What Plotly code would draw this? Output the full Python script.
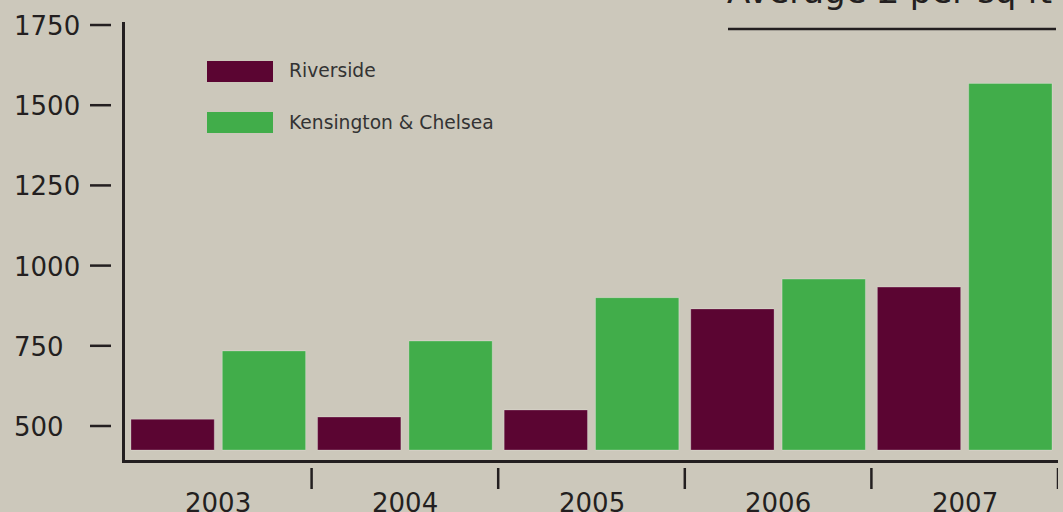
import plotly.graph_objects as go

years = ["2003", "2004", "2005", "2006", "2007"]
riverside = [521, 528, 550, 865, 933]
kensington = [734, 765, 900, 958, 1568]
BASE = 425
y_ticks = [500, 750, 1000, 1250, 1500, 1750]
series_names = ["Riverside", "Kensington & Chelsea"]
title_text = "Average £ per sq ft"

BG = "#ccc8bb"
INK = "#231f20"
C_R = "#5b0532"
C_K = "#41ad4a"
FONT = "DejaVu Sans"

W, H = 1063, 512
L, R, T, B = 125, 5, 22, 52
PW, PH = W - L - R, H - T - B


def px(xp):
    return (xp - L) / PW


def py(yp):
    return (H - B - yp) / PH


fig = go.Figure()
fig.add_bar(x=years, y=[v - BASE for v in riverside], base=BASE, name=series_names[0],
            marker=dict(color=C_R, line=dict(color="rgba(255,255,255,0.25)", width=1)))
fig.add_bar(x=years, y=[v - BASE for v in kensington], base=BASE, name=series_names[1],
            marker=dict(color=C_K, line=dict(color="rgba(255,255,255,0.25)", width=1)))

shapes = []
annotations = []

# y tick dashes and labels
for t in y_ticks:
    shapes.append(dict(type="line", xref="paper", yref="y", x0=px(90), x1=px(111), y0=t, y1=t,
                       line=dict(color=INK, width=2.5)))
    annotations.append(dict(xref="paper", yref="y", x=px(12), y=t, text=str(t), showarrow=False,
                            xanchor="left", yanchor="middle", yshift=-1,
                            font=dict(family=FONT, size=26, color=INK)))

# x group boundary ticks and year labels
for i, yr in enumerate(years):
    shapes.append(dict(type="line", xref="x", yref="paper", x0=i + 0.5, x1=i + 0.5,
                       y0=py(468), y1=py(489), line=dict(color=INK, width=2.5)))
    annotations.append(dict(xref="x", yref="paper", x=i, y=py(503), text=yr, showarrow=False,
                            xanchor="center", yanchor="middle",
                            font=dict(family=FONT, size=26, color=INK)))

# legend
for name, col, top in [(series_names[0], C_R, 61), (series_names[1], C_K, 112)]:
    shapes.append(dict(type="rect", xref="paper", yref="paper", x0=px(207), x1=px(273),
                       y0=py(top), y1=py(top + 21), fillcolor=col, line=dict(width=0)))
    annotations.append(dict(xref="paper", yref="paper", x=px(287), y=py(top + 10), text=name,
                            showarrow=False, xanchor="left", yanchor="middle",
                            font=dict(family=FONT, size=18.7, color="#333333")))

# title and underline
annotations.append(dict(xref="paper", yref="paper", x=px(725), y=py(12.5), text=title_text,
                        showarrow=False, xanchor="left", yanchor="bottom",
                        font=dict(family=FONT, size=34, color=INK)))
shapes.append(dict(type="line", xref="paper", yref="paper", x0=px(728), x1=px(1056),
                   y0=py(29), y1=py(29), line=dict(color=INK, width=2.5)))

fig.update_layout(
    width=W, height=H,
    margin=dict(l=L, r=R, t=T, b=B, pad=0),
    paper_bgcolor=BG, plot_bgcolor=BG,
    barmode="group", bargap=0.021, bargroupgap=0.088,
    showlegend=False,
    shapes=shapes, annotations=annotations,
    font=dict(family=FONT, color=INK),
    xaxis=dict(type="category", showgrid=False, zeroline=False, showticklabels=False,
               ticks="", showline=True, linecolor=INK, linewidth=2.5, range=[-0.5, 4.5]),
    yaxis=dict(range=[394, 1759.4], showgrid=False, zeroline=False, showticklabels=False,
               ticks="", showline=True, linecolor=INK, linewidth=2.5),
)

fig.write_html("out.html")
